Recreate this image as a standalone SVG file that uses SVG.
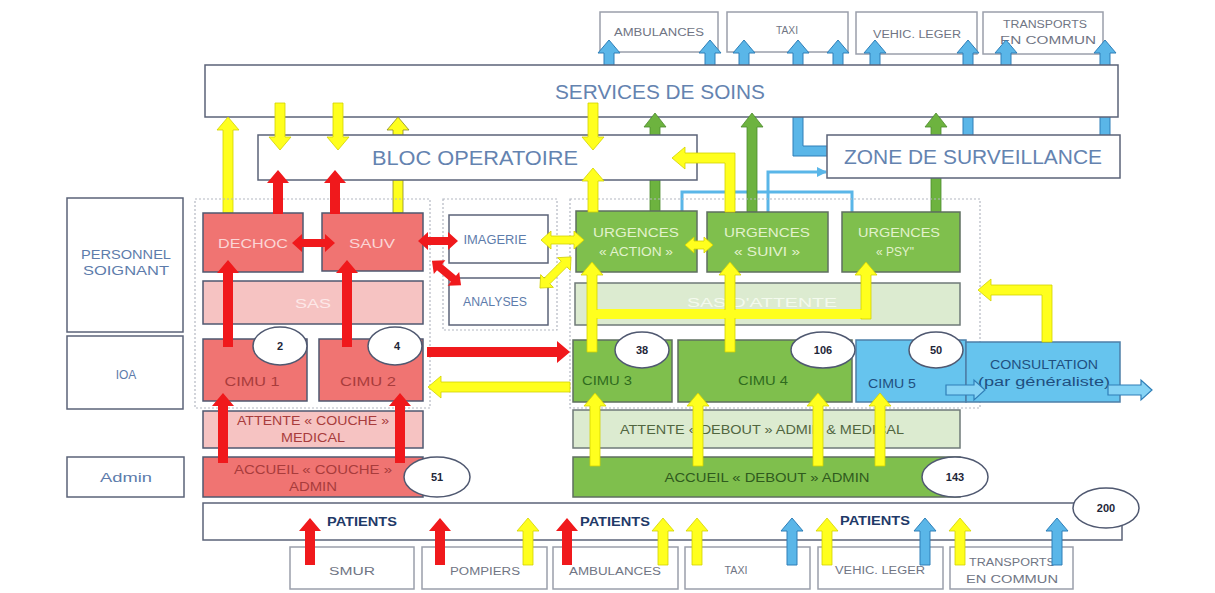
<svg xmlns="http://www.w3.org/2000/svg" width="1215" height="593" viewBox="0 0 1215 593">
<defs>
<style>
text { font-family: "Liberation Sans", "DejaVu Sans", sans-serif; text-anchor: middle; }
.box { fill:#fff; stroke:#5b6378; stroke-width:1.5; }
.tbox { fill:#fff; stroke:#9a9fab; stroke-width:1.5; }
.dash { fill:none; stroke:#b4b8c2; stroke-width:1.2; stroke-dasharray:2 2; }
.red { fill:#f07472; stroke:#4f5870; stroke-width:1.5; }
.pink { fill:#f6c3c2; stroke:#4f5870; stroke-width:1.5; }
.grn { fill:#7fbf4d; stroke:#5f6f60; stroke-width:1.5; }
.lgrn { fill:#dcebd0; stroke:#6f7a78; stroke-width:1.5; }
.blu { fill:#66c4ee; stroke:#4d7fa8; stroke-width:1.5; }
.ell { fill:#fff; stroke:#4f5870; stroke-width:1.5; }
.lbl { fill:#5d7cab; font-size:12px; }
.big { fill:#6483b0; font-size:20px; }
.tr { fill:#707584; font-size:10px; }
.num { fill:#1e2638; font-size:11px; font-weight:bold; }
.wr { fill:#fbd6d6; font-size:13px; }
.dr { fill:#a83c3c; font-size:12px; }
.wg { fill:#e2f2cc; font-size:12px; }
.dg { fill:#2f6b1e; font-size:12px; }
.db { fill:#1f4f80; font-size:12px; }
.pat { fill:#1f3a68; font-size:13px; font-weight:bold; }
.ar-r { fill:#f0191c; }
.ar-y { fill:#ffff1e; stroke:#d2d200; stroke-width:0.8; }
.ar-g { fill:#6db33f; stroke:#4d8a2d; stroke-width:0.8; }
.ar-b { fill:#5ab6e8; stroke:#2f7fb8; stroke-width:1; }
.ar-bh { fill:#86d3f5; stroke:#2f7fb8; stroke-width:1.2; }
.thin-b { fill:none; stroke:#5ab6e8; stroke-width:3; }
</style>
<marker id="mb" viewBox="0 0 10 10" refX="9" refY="5" markerWidth="10" markerHeight="10" markerUnits="userSpaceOnUse" orient="auto">
<path d="M0,0 L10,5 L0,10 z" fill="#5ab6e8"/>
</marker>
</defs>
<rect width="1215" height="593" fill="#ffffff"/>

<!-- top transport boxes -->
<g id="top-ambulances"><rect class="tbox" x="600" y="12" width="118" height="40"/><text class="tr" x="659" y="36" textLength="90" lengthAdjust="spacingAndGlyphs">AMBULANCES</text></g>
<g id="top-taxi"><rect class="tbox" x="727" y="12" width="121" height="40"/><text class="tr" x="787" y="34" textLength="22" lengthAdjust="spacingAndGlyphs">TAXI</text></g>
<g id="top-vehic"><rect class="tbox" x="856" y="12" width="121" height="42"/><text class="tr" x="917" y="38" textLength="88" lengthAdjust="spacingAndGlyphs">VEHIC. LEGER</text></g>
<g id="top-transports"><rect class="tbox" x="983" y="12" width="120" height="42"/><text class="tr" x="1045" y="28" textLength="84" lengthAdjust="spacingAndGlyphs">TRANSPORTS</text><text class="tr" x="1048" y="44" textLength="96" lengthAdjust="spacingAndGlyphs">EN COMMUN</text></g>

<g id="connectors-back">
<polygon class="ar-b" points="609,40 620,53 614,53 614,95 604,95 604,53 598,53"/>
<polygon class="ar-b" points="710,40 721,53 715,53 715,95 705,95 705,53 699,53"/>
<polygon class="ar-b" points="744,40 755,53 749,53 749,95 739,95 739,53 733,53"/>
<polygon class="ar-b" points="838,40 849,53 843,53 843,95 833,95 833,53 827,53"/>
<polygon class="ar-b" points="875,40 886,53 880,53 880,95 870,95 870,53 864,53"/>
<polygon class="ar-b" points="1006,40 1017,53 1011,53 1011,95 1001,95 1001,53 995,53"/>
<polygon class="ar-b" points="968,40 979,53 973,53 973,136 963,136 963,53 957,53"/>
<polygon class="ar-b" points="1105,40 1116,53 1110,53 1110,136 1100,136 1100,53 1094,53"/>
<polygon class="ar-b" points="798,40 809,53 803,53 803,146 828,146 828,156 793,156 793,53 787,53"/>
</g>

<g id="services"><rect class="box" x="205" y="65" width="913" height="52"/><text class="big" x="660" y="99" textLength="210" lengthAdjust="spacingAndGlyphs">SERVICES DE SOINS</text></g>

<g id="connectors-mid">
<path class="thin-b" d="M682,211 V192 H852 V212"/>
<path class="thin-b" d="M768,212 V172 H826" marker-end="url(#mb)"/>
<polygon class="ar-g" points="655,113 666,127 660,127 660,212 650,212 650,127 644,127"/>
<polygon class="ar-g" points="752,113 763,127 757,127 757,212 747,212 747,127 741,127"/>
<polygon class="ar-g" points="936,113 947,127 941,127 941,212 931,212 931,127 925,127"/>
<polygon class="ar-y" points="228,117 239,130 233,130 233,213 223,213 223,130 217,130"/>
<polygon class="ar-y" points="398,117 409,130 403,130 403,213 393,213 393,130 387,130" style="stroke:#8a8a20"/>
</g>

<g id="bloc"><rect class="box" x="258" y="135" width="439" height="45"/><text class="big" x="475" y="165" textLength="206" lengthAdjust="spacingAndGlyphs">BLOC OPERATOIRE</text></g>
<g id="zone"><rect class="box" x="827" y="135" width="293" height="43"/><text class="big" x="973" y="164" textLength="258" lengthAdjust="spacingAndGlyphs">ZONE DE SURVEILLANCE</text></g>

<g id="personnel"><rect class="box" x="67" y="198" width="116" height="134"/><text class="lbl" x="126" y="259" textLength="90" lengthAdjust="spacingAndGlyphs">PERSONNEL</text><text class="lbl" x="126" y="275" textLength="86" lengthAdjust="spacingAndGlyphs">SOIGNANT</text></g>
<g id="ioa"><rect class="box" x="67" y="336" width="116" height="73"/><text class="lbl" x="126" y="379" font-size="13">IOA</text></g>
<g id="admin"><rect class="box" x="67" y="457" width="117" height="40"/><text class="lbl" x="126" y="482" font-size="13" textLength="52" lengthAdjust="spacingAndGlyphs">Admin</text></g>

<g id="zone-rouge"><rect class="dash" x="195" y="199" width="235" height="209"/></g>
<g id="dechoc"><rect class="red" x="203" y="213" width="100" height="59"/><text class="wr" x="253" y="248" textLength="70" lengthAdjust="spacingAndGlyphs">DECHOC</text></g>
<g id="sauv"><rect class="red" x="322" y="213" width="101" height="58"/><text class="wr" x="372" y="248" textLength="46" lengthAdjust="spacingAndGlyphs">SAUV</text></g>
<g id="sas"><rect class="pink" x="203" y="281" width="220" height="43"/><text x="313" y="308" fill="#fde8e8" font-size="13" textLength="36" lengthAdjust="spacingAndGlyphs">SAS</text></g>
<g id="cimu1"><rect class="red" x="203" y="339" width="104" height="62"/><text class="dr" x="252" y="386" textLength="55" lengthAdjust="spacingAndGlyphs">CIMU 1</text></g>
<g id="cimu2"><rect class="red" x="319" y="339" width="104" height="62"/><text class="dr" x="368" y="386" textLength="56" lengthAdjust="spacingAndGlyphs">CIMU 2</text></g>
<g id="n2"><ellipse class="ell" cx="280" cy="346" rx="27" ry="19"/><text class="num" x="280" y="350">2</text></g>
<g id="n4"><ellipse class="ell" cx="395" cy="346" rx="27" ry="19"/><text class="num" x="397" y="350">4</text></g>
<g id="attente-couche"><rect class="pink" x="203" y="411" width="220" height="37"/><text class="dr" x="313" y="425" fill="#8f4848" textLength="152" lengthAdjust="spacingAndGlyphs">ATTENTE « COUCHE »</text><text class="dr" x="313" y="442" fill="#8f4848" textLength="64" lengthAdjust="spacingAndGlyphs">MEDICAL</text></g>
<g id="accueil-couche"><rect class="red" x="203" y="457" width="220" height="40"/><text class="dr" x="313" y="474" fill="#7a2b2b" textLength="158" lengthAdjust="spacingAndGlyphs">ACCUEIL « COUCHE »</text><text class="dr" x="313" y="491" fill="#7a2b2b" textLength="48" lengthAdjust="spacingAndGlyphs">ADMIN</text></g>
<g id="n51"><ellipse class="ell" cx="437" cy="477" rx="33" ry="20"/><text class="num" x="437" y="481">51</text></g>

<g id="zone-plateau"><rect class="dash" x="443" y="199" width="114" height="131"/></g>
<g id="imagerie"><rect class="box" x="449" y="215" width="99" height="48"/><text class="lbl" x="495" y="244" font-size="11" textLength="63" lengthAdjust="spacingAndGlyphs">IMAGERIE</text></g>
<g id="analyses"><rect class="box" x="449" y="278" width="99" height="47"/><text class="lbl" x="495" y="306" font-size="11" textLength="64" lengthAdjust="spacingAndGlyphs">ANALYSES</text></g>

<g id="zone-verte"><rect class="dash" x="570" y="199" width="410" height="209"/></g>
<g id="urg-action"><rect class="grn" x="576" y="211" width="121" height="61"/><text class="wg" x="636" y="237" textLength="86" lengthAdjust="spacingAndGlyphs">URGENCES</text><text class="wg" x="636" y="256" textLength="74" lengthAdjust="spacingAndGlyphs">« ACTION »</text></g>
<g id="urg-suivi"><rect class="grn" x="707" y="212" width="121" height="60"/><text class="wg" x="767" y="237" textLength="86" lengthAdjust="spacingAndGlyphs">URGENCES</text><text class="wg" x="767" y="256" textLength="66" lengthAdjust="spacingAndGlyphs">« SUIVI »</text></g>
<g id="urg-psy"><rect class="grn" x="842" y="212" width="118" height="60"/><text class="wg" x="899" y="237" textLength="82" lengthAdjust="spacingAndGlyphs">URGENCES</text><text class="wg" x="895" y="256" textLength="38" lengthAdjust="spacingAndGlyphs">« PSY"</text></g>
<g id="sas-vert"><rect class="lgrn" x="575" y="283" width="385" height="42"/><text x="762" y="307" fill="#f4faee" font-size="12" textLength="150" lengthAdjust="spacingAndGlyphs">SAS D'ATTENTE</text></g>
<g id="cimu3"><rect class="grn" x="573" y="340" width="99" height="62"/><text class="dg" x="607" y="385" textLength="50" lengthAdjust="spacingAndGlyphs">CIMU 3</text></g>
<g id="cimu4"><rect class="grn" x="678" y="340" width="174" height="62"/><text class="dg" x="763" y="385" textLength="50" lengthAdjust="spacingAndGlyphs">CIMU 4</text></g>
<g id="cimu5"><rect class="blu" x="856" y="340" width="110" height="62"/><text class="db" x="892" y="388" textLength="48" lengthAdjust="spacingAndGlyphs">CIMU 5</text></g>
<g id="consultation"><rect class="blu" x="966" y="342" width="154" height="60"/><text class="db" x="1044" y="369" textLength="108" lengthAdjust="spacingAndGlyphs">CONSULTATION</text><text class="db" x="1044" y="386" textLength="132" lengthAdjust="spacingAndGlyphs">(par généraliste)</text></g>
<g id="n38"><ellipse class="ell" cx="642" cy="350" rx="27" ry="18"/><text class="num" x="642" y="354">38</text></g>
<g id="n106"><ellipse class="ell" cx="823" cy="350" rx="32" ry="18"/><text class="num" x="823" y="354">106</text></g>
<g id="n50"><ellipse class="ell" cx="936" cy="350" rx="27" ry="18"/><text class="num" x="936" y="354">50</text></g>
<g id="attente-debout"><rect class="lgrn" x="573" y="410" width="387" height="38"/><text x="762" y="434" fill="#51663f" font-size="12" textLength="284" lengthAdjust="spacingAndGlyphs">ATTENTE « DEBOUT » ADMIN &amp; MEDICAL</text></g>
<g id="accueil-debout"><rect class="grn" x="573" y="457" width="387" height="40"/><text x="767" y="482" fill="#2f5a1e" font-size="12" textLength="205" lengthAdjust="spacingAndGlyphs">ACCUEIL « DEBOUT » ADMIN</text></g>
<g id="n143"><ellipse class="ell" cx="955" cy="477" rx="33" ry="20"/><text class="num" x="955" y="481">143</text></g>

<g id="patients"><rect class="box" x="203" y="503" width="919" height="37"/><text class="pat" x="362" y="526" textLength="70" lengthAdjust="spacingAndGlyphs">PATIENTS</text><text class="pat" x="615" y="526" textLength="70" lengthAdjust="spacingAndGlyphs">PATIENTS</text><text class="pat" x="875" y="525" textLength="70" lengthAdjust="spacingAndGlyphs">PATIENTS</text></g>
<g id="n200"><ellipse class="ell" cx="1106" cy="508" rx="33" ry="20"/><text class="num" x="1106" y="512">200</text></g>

<g id="bot-smur"><rect class="tbox" x="290" y="547" width="124" height="42"/><text class="tr" x="352" y="575" textLength="46" lengthAdjust="spacingAndGlyphs">SMUR</text></g>
<g id="bot-pompiers"><rect class="tbox" x="422" y="547" width="125" height="42"/><text class="tr" x="485" y="575" textLength="70" lengthAdjust="spacingAndGlyphs">POMPIERS</text></g>
<g id="bot-ambulances"><rect class="tbox" x="553" y="547" width="125" height="42"/><text class="tr" x="615" y="575" textLength="92" lengthAdjust="spacingAndGlyphs">AMBULANCES</text></g>
<g id="bot-taxi"><rect class="tbox" x="685" y="547" width="125" height="42"/><text class="tr" x="736" y="574" textLength="23" lengthAdjust="spacingAndGlyphs">TAXI</text></g>
<g id="bot-vehic"><rect class="tbox" x="818" y="547" width="125" height="42"/><text class="tr" x="880" y="574" textLength="90" lengthAdjust="spacingAndGlyphs">VEHIC. LEGER</text></g>
<g id="bot-transports"><rect class="tbox" x="950" y="547" width="123" height="42"/><text class="tr" x="1012" y="566" textLength="86" lengthAdjust="spacingAndGlyphs">TRANSPORTS</text><text class="tr" x="1012" y="583" textLength="92" lengthAdjust="spacingAndGlyphs">EN COMMUN</text></g>

<g id="connectors-front">
<!-- yellow -->
<polygon class="ar-y" points="275,103 285,103 285,137 291,137 280,150 269,137 275,137"/>
<polygon class="ar-y" points="333,103 343,103 343,137 349,137 338,150 327,137 333,137"/>
<polygon class="ar-y" points="588,103 598,103 598,137 604,137 593,150 582,137 588,137"/>
<polygon class="ar-y" points="593,168 604,181 598,181 598,212 588,212 588,181 582,181"/>
<polygon class="ar-y" points="672,158 685,147 685,153 735,153 735,212 725,212 725,163 685,163 685,169"/>
<polygon class="ar-y" points="541,240 551,231 551,236 574,236 574,231 584,240 574,249 574,244 551,244 551,249"/>
<polygon class="ar-y" points="-22,0 -12,-9 -12,-4 12,-4 12,-9 22,0 12,9 12,4 -12,4 -12,9" transform="translate(555.5 272.5) rotate(-45)"/>
<polygon class="ar-y" points="685,245 694,237 694,241 704,241 704,237 713,245 704,253 704,249 694,249 694,253"/>
<rect x="592" y="309" width="279" height="10" fill="#ffff1e"/>
<polygon class="ar-y" points="592,262 603,275 597,275 597,352 587,352 587,275 581,275"/>
<polygon class="ar-y" points="730,262 741,275 735,275 735,352 725,352 725,275 719,275"/>
<polygon class="ar-y" points="866,262 877,275 871,275 871,319 861,319 861,275 855,275"/>
<rect x="593" y="310" width="277" height="8" fill="#ffff1e"/>
<polygon class="ar-y" points="978,290 991,279 991,285 1052,285 1052,342 1042,342 1042,295 991,295 991,301"/>
<polygon class="ar-y" points="428,387 441,376 441,382 570,382 570,392 441,392 441,398"/>
<polygon class="ar-y" points="595,393 606,406 600,406 600,466 590,466 590,406 584,406"/>
<polygon class="ar-y" points="698,393 709,406 703,406 703,466 693,466 693,406 687,406"/>
<polygon class="ar-y" points="818,393 829,406 823,406 823,466 813,466 813,406 807,406"/>
<polygon class="ar-y" points="880,393 891,406 885,406 885,466 875,466 875,406 869,406"/>
<!-- red -->
<polygon class="ar-r" points="223,393 234,406 228,406 228,463 218,463 218,406 212,406"/>
<polygon class="ar-r" points="400,393 411,406 405,406 405,463 395,463 395,406 389,406"/>
<polygon class="ar-r" points="228,260 239,273 233,273 233,347 223,347 223,273 217,273"/>
<polygon class="ar-r" points="347,260 358,273 352,273 352,347 342,347 342,273 336,273"/>
<polygon class="ar-r" points="278,170 289,183 283,183 283,214 273,214 273,183 267,183"/>
<polygon class="ar-r" points="335,170 346,183 340,183 340,214 330,214 330,183 324,183"/>
<polygon class="ar-r" points="292,243 302,234 302,239 325,239 325,234 335,243 325,252 325,247 302,247 302,252"/>
<polygon class="ar-r" points="418,241 428,232 428,237 448,237 448,232 458,241 448,250 448,245 428,245 428,250"/>
<polygon class="ar-r" points="-19,0 -9,-9 -9,-4 9,-4 9,-9 19,0 9,9 9,4 -9,4 -9,9" transform="translate(446.5 273) rotate(40)"/>
<polygon class="ar-r" points="570,352 557,341 557,347 427,347 427,357 557,357 557,363"/>
<!-- blue -->
<polygon class="ar-bh" points="985,390 974,380 974,385 946,385 946,395 974,395 974,400"/>
<polygon class="ar-bh" points="1152,390 1141,380 1141,385 1108,385 1108,395 1141,395 1141,400"/>
<!-- bottom arrows -->
<polygon class="ar-r" points="310,518 321,531 315,531 315,565 305,565 305,531 299,531"/>
<polygon class="ar-r" points="440,518 451,531 445,531 445,565 435,565 435,531 429,531"/>
<polygon class="ar-r" points="567,518 578,531 572,531 572,565 562,565 562,531 556,531"/>
<polygon class="ar-y" points="528,518 539,531 533,531 533,565 523,565 523,531 517,531"/>
<polygon class="ar-y" points="663,518 674,531 668,531 668,565 658,565 658,531 652,531"/>
<polygon class="ar-y" points="697,518 708,531 702,531 702,565 692,565 692,531 686,531"/>
<polygon class="ar-y" points="827,518 838,531 832,531 832,565 822,565 822,531 816,531"/>
<polygon class="ar-y" points="960,518 971,531 965,531 965,565 955,565 955,531 949,531"/>
<polygon class="ar-b" points="792,518 803,531 797,531 797,565 787,565 787,531 781,531"/>
<polygon class="ar-b" points="925,518 936,531 930,531 930,565 920,565 920,531 914,531"/>
<polygon class="ar-b" points="1057,518 1068,531 1062,531 1062,565 1052,565 1052,531 1046,531"/>
</g>
</svg>
